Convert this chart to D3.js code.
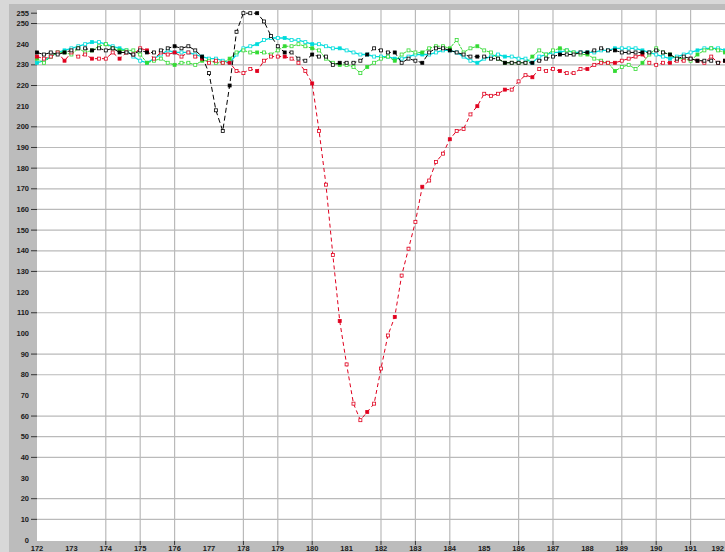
<!DOCTYPE html>
<html><head><meta charset="utf-8">
<script src="https://cdn.jsdelivr.net/npm/d3@7/dist/d3.min.js"></script>
<style>html,body{margin:0;padding:0;background:#d6d6d6;overflow:hidden}</style>
</head><body>
<svg id="c" width="725" height="552"></svg>
<script>
// sample positions (x axis)
const xs = [172.0,172.2,172.4,172.6,172.8,173.0,173.2,173.4,173.6,173.8,
174.0,174.2,174.4,174.6,174.8,175.0,175.2,175.4,175.6,175.8,
176.0,176.2,176.4,176.6,176.8,177.0,177.2,177.4,177.6,177.8,
178.0,178.2,178.4,178.6,178.8,179.0,179.2,179.4,179.6,179.8,
180.0,180.2,180.4,180.6,180.8,181.0,181.2,181.4,181.6,181.8,
182.0,182.2,182.4,182.6,182.8,183.0,183.2,183.4,183.6,183.8,
184.0,184.2,184.4,184.6,184.8,185.0,185.2,185.4,185.6,185.8,
186.0,186.2,186.4,186.6,186.8,187.0,187.2,187.4,187.6,187.8,
188.0,188.2,188.4,188.6,188.8,189.0,189.2,189.4,189.6,189.8,
190.0,190.2,190.4,190.6,190.8,191.0,191.2,191.4,191.6,191.8,192.0];

const cyanSeries = [231,232,234,236,237,238,239,240,241,241,
240,239,238,237,234,232,231,233,235,237,
236,236,236,235,234,233,233,232,231,235,
238,239,240,242,243,243,243,242,242,241,
240,240,239,238,238,237,236,235,235,234,
234,234,233,233,234,235,235,235,236,237,
237,236,234,232,231,233,234,235,234,234,
233,233,231,234,235,236,236,237,236,236,
236,236,237,237,238,238,238,238,237,236,
235,234,233,234,235,236,237,238,238,238,237];

const greenSeries = [233,231,234,236,236,235,238,236,237,239,
240,238,237,237,237,235,231,232,233,231,
230,231,231,230,232,232,231,231,233,236,
237,236,236,236,235,237,239,239,240,239,
238,237,233,231,230,230,229,226,229,231,
233,234,232,235,237,236,236,238,239,239,
238,242,236,238,239,237,236,233,231,231,
231,231,234,237,235,237,238,237,236,235,
235,233,232,231,227,229,230,228,231,235,
238,236,235,233,233,232,235,237,238,237,236];

const blackSeries = [236,235,236,235,236,237,238,238,237,238,
237,238,236,236,235,237,236,236,237,238,
239,238,239,237,234,226,208,198,220,246,
255,255,255,251,244,239,236,236,233,232,
235,234,234,230,231,231,231,232,235,238,
237,236,236,231,233,232,231,236,238,238,
237,236,235,234,234,234,233,233,231,231,
231,231,231,232,233,234,235,235,235,236,
236,237,238,237,237,236,236,236,236,236,
237,236,235,233,234,233,232,232,232,231,232];

const redSeries = [234,233,234,236,232,236,234,235,233,233,
233,236,233,236,235,238,237,233,236,235,
236,234,236,234,233,231,232,231,231,227,
226,228,227,232,234,234,234,233,231,227,
221,198,172,138,106,85,66,58,62,66,
83,99,108,128,141,154,171,174,183,187,
194,198,199,206,210,216,215,216,218,218,
222,225,224,228,227,228,227,226,226,228,
228,230,231,231,231,232,233,234,235,231,
230,231,231,232,232,233,232,231,234,231,232];

const yTickLabels = [255,250,240,230,220,210,200,190,180,170,160,150,140,130,120,110,100,90,80,70,60,50,40,30,20,10,0];
const yGridValues = [250,230,220,200,190,180,170,160,150,140,130,110,90,80,60,50,40,20,10];
const yTickMarks = [255,250,230,220,200,190,180,170,160,150,140,130,110,90,80,60,50,40,20,10];
const xTickLabels = [172,173,174,175,176,177,178,179,180,181,182,183,184,185,186,187,188,189,190,191,192];
const xGridValues = [174,175,176,178,179,180,182,183,184,186,187,189,190,191];

const seriesList = [
  {name:"cyan",  values:cyanSeries,  color:"#00dcdc", dash:null,  width:1.3},
  {name:"green", values:greenSeries, color:"#33da33", dash:"3,1", width:1},
  {name:"red",   values:redSeries,   color:"#e0001e", dash:"4,3", width:1},
  {name:"black", values:blackSeries, color:"#000000", dash:"5,3", width:1}
];

const svg = d3.select("#c");
const W = 725, H = 552;
const plotL = 37, plotT = 10, plotB = 541;

const x = d3.scaleLinear().domain([172,192]).range([37,725]);
const y = d3.scaleLinear().domain([0,255]).range([540,13.2]);

// frame
svg.append("rect").attr("x",0).attr("y",0).attr("width",W).attr("height",H).attr("fill","#d8d8d8");
svg.append("rect").attr("x",9).attr("y",4).attr("width",W-9).attr("height",H-4).attr("fill","#bcbcbc");
svg.append("rect").attr("x",plotL).attr("y",plotT).attr("width",W-plotL).attr("height",plotB-plotT).attr("fill","#ffffff");

// grid
const g = svg.append("g");
g.selectAll("line.hg").data(yGridValues).join("line")
  .attr("x1",plotL).attr("x2",W).attr("y1",d=>y(d)).attr("y2",d=>y(d))
  .attr("stroke","#bababa").attr("stroke-width",1.2);
g.selectAll("line.vg").data(xGridValues).join("line")
  .attr("y1",plotT).attr("y2",plotB).attr("x1",d=>x(d)).attr("x2",d=>x(d))
  .attr("stroke","#bababa").attr("stroke-width",1.2);

// y axis ticks + labels
svg.append("g").selectAll("line").data(yTickMarks).join("line")
  .attr("x1",31).attr("x2",37).attr("y1",d=>y(d)).attr("y2",d=>y(d))
  .attr("stroke","#333").attr("stroke-width",1);
svg.append("g").selectAll("text").data(yTickLabels).join("text")
  .attr("x",29).attr("y",d=>y(d)+2.5).attr("text-anchor","end")
  .attr("font-family","Liberation Sans, Arial, sans-serif").attr("font-size",7.5).attr("font-weight","bold")
  .attr("fill","#1a1a1a").text(d=>d);

// x axis ticks + labels
svg.append("g").selectAll("line").data(xGridValues).join("line")
  .attr("x1",d=>x(d)).attr("x2",d=>x(d)).attr("y1",541).attr("y2",545)
  .attr("stroke","#333").attr("stroke-width",1);
svg.append("g").selectAll("text").data(xTickLabels).join("text")
  .attr("x",d=>d===192 ? x(d)-1 : x(d)).attr("y",551)
  .attr("text-anchor",d=>d===192 ? "end" : "middle")
  .attr("font-family","Liberation Sans, Arial, sans-serif").attr("font-size",7.5).attr("font-weight","bold")
  .attr("fill","#1a1a1a").text(d=>d);

// series
const plot = svg.append("g");
const line = d3.line().x((d,i)=>x(xs[i])).y(d=>y(d));
seriesList.forEach(s=>{
  plot.append("path").datum(s.values).attr("d",line)
    .attr("fill","none").attr("stroke",s.color).attr("stroke-width",s.width)
    .attr("stroke-dasharray",s.dash);
  plot.append("g").selectAll("rect").data(s.values).join("rect")
    .attr("x",(d,i)=>x(xs[i])-1.5).attr("y",d=>y(d)-1.5)
    .attr("width",3).attr("height",3)
    .attr("fill",(d,i)=> i%4===0 ? s.color : "#ffffff")
    .attr("stroke",s.color).attr("stroke-width",0.8);
});
</script>
</body></html>
